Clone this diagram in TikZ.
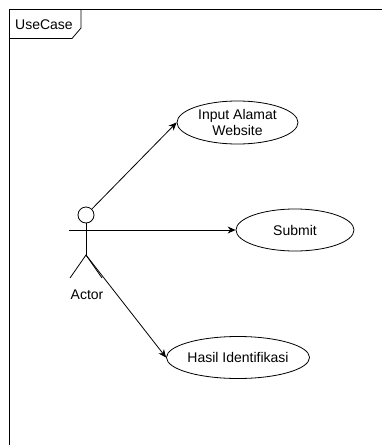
\documentclass[tikz,border=0pt]{standalone}
\usepackage{fontspec}
\setmainfont{Liberation Sans}
\usetikzlibrary{positioning, arrows.meta, calc, shapes.geometric}
\tikzset{
    usecase/.style={
        ellipse,
        draw=black,
        fill=white,
        line width=0.8pt,
        minimum width=121pt,
        minimum height=42pt,
        inner sep=0pt,
        align=center,
        font=\fontsize{14}{16}\selectfont
    },
    link/.style={
        line width=0.8pt,
        -{Stealth[length=8pt,width=7pt]}
    },
    stick/.style={
        line width=0.8pt
    },
    frame/.style={
        line width=1pt
    },
    label14/.style={
        font=\fontsize{14}{16}\selectfont
    }
}

\begin{document}
\begin{tikzpicture}[x=1pt,y=-1pt]

\useasboundingbox (0,0) rectangle (382,445);

%---------------- Frame ----------------

\draw[frame] (9.5,445) -- (9.5,9.5) -- (382,9.5);
\draw[stick] (81,9.5) -- (81,28) -- (72,38.5) -- (9.5,38.5);
\node[label14] (title) at (44,25) {UseCase};

%---------------- Actor ----------------

\node[circle, draw=black, stick, minimum size=16pt, inner sep=0pt] (head) at (86,215) {};
\coordinate (hip) at (86,255);
\coordinate (armL) at (69,230);
\coordinate (armR) at (102,230);
\coordinate (footL) at (70,278);
\coordinate (footR) at (102,278);

\draw[stick] (head.south) -- (hip);
\draw[stick] (armL) -- (armR);
\draw[stick] (footL) -- (hip) -- (footR);

\node[label14] (actor) at (87,295) {Actor};

%---------------- Use cases ----------------

\node[usecase, minimum height=43pt] (input) at (237.5,122.5) {Input Alamat\\Website};
\node[usecase, minimum width=118pt] (submit) at (295,230) {Submit};
\node[usecase] (hasil) at (238,357.5) {Hasil Identifikasi};

\draw[link] (head) -- (input.west);
\draw[link] (armL) -- (submit.west);
\draw[link] (hip) -- (hasil.west);

\end{tikzpicture}
\end{document}
